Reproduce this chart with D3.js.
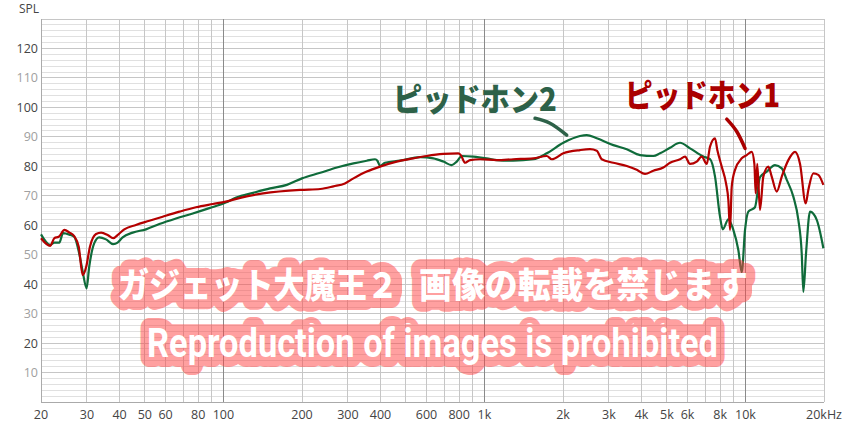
<!DOCTYPE html>
<html><head><meta charset="utf-8">
<script src="https://cdn.jsdelivr.net/npm/d3@7"></script>
<style>html,body{margin:0;padding:0;background:#fff;} svg{display:block;}</style>
</head><body><svg id="c" width="844" height="426"></svg>
<script>
// ---------- data ----------
const seriesNames = ["ピッドホン1", "ピッドホン2"];

// ピッドホン1 (red)
const freq1 = [20,21.7,22.5,23.4,24.6,25.7,26.8,27.9,28.9,29.8,30.8,32.5,34,36,37.8,39.7,41.7,46.2,52,58.5,67.8,78.5,91,102,116,142,197,235,264,292,315,354,398,461,534,601,696,794,812,843,881,962,1115,1290,1539,1733,1811,2006,2324,2539,2694,2815,3118,3510,3833,4124,4437,4847,5141,5616,5869,6133,6507,6801,7108,7318,7647,7803,8112,8428,8600,8730,8862,9124,9679,10115,10570,10820,10950,11100,11370,11710,12240,12610,13180,13780,14600,15490,16190,17020,17420,18200,19020,19890];
const spl1  = [55.6,53,55.6,56.1,58.4,57.5,56.3,52.7,43.1,45.9,52.7,57,57.5,56.7,55.6,57,58.6,60.1,61.5,62.9,64.6,66.1,67.2,68,69.3,70.8,72,72.3,73.2,74.2,75.9,78.2,79.9,81.6,82.7,83.5,84.2,84.4,83.8,81.2,82.1,82.4,82.1,82.4,82.7,83.5,82.4,84.4,85.5,85.8,85.3,82.4,81.2,80.1,78.8,77.4,78.5,79.6,81.2,82.4,83.3,80.8,81.6,83.3,80.8,86.7,89.5,85.5,79.9,74.2,68.6,58.4,73.1,78.8,82.7,83.8,84.9,80.8,70.8,80.8,65.2,76.5,79.9,76.5,71.4,76.5,82.1,84.9,80.8,67.4,72,77.6,77.1,73.7];

// ピッドホン2 (green)
const freq2 = [20,21.7,22.5,23.5,24.3,25.7,26.8,28.0,28.9,29.9,30.6,32.0,33.4,35.5,37.8,39.3,41.1,44.9,50.5,56.8,65.8,76.3,88.3,102,112,130,151,175,200,235,272,315,354,381,389,398,416,475,567,637,696,749,783,819,907,1020,1115,1290,1539,1733,2006,2324,2466,2694,3118,3510,3947,4437,4708,5141,5616,6133,6898,7318,7647,7992,8185,8600,8988,9393,9679,9965,10260,10880,11370,12070,12980,13780,14400,15260,15950,16430,16670,17070,17680,18760,19890];
const spl2  = [56.9,53.3,54.1,54.1,57.3,56.8,56.1,50.5,44.2,38.6,45.9,53.9,55.9,55.2,53.6,54.1,55.9,57.5,58.6,60.4,62.3,64.0,65.8,67.7,69.4,71.0,72.5,73.7,75.9,77.8,79.6,81.0,81.9,82.4,81.9,80.1,81.2,81.9,83.1,82.7,81.6,80.4,81.6,83.5,83.3,82.7,82.1,81.9,82.4,84.4,88.0,90.3,90.6,89.5,87.2,85.8,83.8,83.5,84.4,86.3,88.0,86.1,83.3,82.4,76.5,62.9,58.6,62.0,58.4,51.6,44.0,58.4,64.6,66.1,76.3,78.2,80.4,79.3,75.4,69.7,61.8,50.5,37.4,50.5,64.6,61.8,52.2];

const yTickValues = [10,20,30,40,50,60,70,80,90,100,110,120];
const xTickValues = [20,30,40,50,60,80,100,200,300,400,600,800,1000,2000,3000,4000,5000,6000,8000,10000,20000];
const xTickLabels = ["20","30","40","50","60","80","100","200","300","400","600","800","1k","2k","3k","4k","5k","6k","8k","10k","20kHz"];

// annotation anchors in data units [freq, dB]
const label1Pos = [3457, 100.1];
const label2Pos = [446, 98.8];
const arrow1 = [[8481,96.0],[9262,91.8],[9965,86.1]];
const arrow2 = [[1563,96.3],[1784,94.6],[2067,90.6]];

const watermarkLine1a = "ガジェット大魔王２";
const watermarkLine1b = "画像の転載を禁じます";
const watermarkLine2 = "Reproduction of images is prohibited";

// ---------- layout ----------
const svg = d3.select("#c");
const L = 41, R = 824, T = 19, B = 402;
const x = d3.scaleLog().domain([20,20000]).range([L,R]);
const y = d3.scaleLinear().domain([0,130]).range([B,T]);

const col1 = "#b40000", col2 = "#0f6b3a";

// grid
const grid = svg.append("g");
const hLines = d3.range(0,131,2);
grid.selectAll("line.h").data(hLines).enter().append("line")
  .attr("x1",L).attr("x2",R).attr("y1",d=>y(d)).attr("y2",d=>y(d))
  .attr("stroke",d=> d%10===0 ? "#c6c6c6" : "#e0e0e0").attr("stroke-width",1)
  .attr("shape-rendering","crispEdges");
const vLines = [];
[10,100,1000,10000].forEach(dec=>{ for(let m=1;m<=9;m++){ const f=dec*m; if(f>=20&&f<=20000) vLines.push(f);} });
vLines.push(20000);
grid.selectAll("line.v").data(vLines).enter().append("line")
  .attr("x1",d=>x(d)).attr("x2",d=>x(d)).attr("y1",T).attr("y2",B)
  .attr("stroke",d=> (d===100||d===1000||d===10000) ? "#8a8a8a" : "#c6c6c6").attr("stroke-width",1)
  .attr("shape-rendering","crispEdges");
// axes frame lines
svg.append("line").attr("x1",L).attr("x2",L).attr("y1",T).attr("y2",B).attr("stroke","#aaa").attr("shape-rendering","crispEdges");
svg.append("line").attr("x1",L).attr("x2",R).attr("y1",B).attr("y2",B).attr("stroke","#aaa").attr("shape-rendering","crispEdges");

// y labels
svg.append("g").selectAll("text").data(yTickValues).enter().append("text")
  .attr("x",38).attr("y",d=>y(d)+4.5).attr("text-anchor","end")
  .attr("font-family","'Open Sans','Noto Sans',sans-serif").attr("font-size",12.5)
  .attr("fill",d=> d%20===0 ? "#444" : "#a0a0a0").text(d=>d);
svg.append("text").attr("x",19).attr("y",13).attr("font-family","'Open Sans','Noto Sans',sans-serif")
  .attr("font-size",12).attr("fill","#444").text("SPL");

// x labels
svg.append("g").selectAll("text").data(xTickValues).enter().append("text")
  .attr("x",d=>x(d)).attr("y",419).attr("text-anchor","middle")
  .attr("font-family","'Open Sans','Noto Sans',sans-serif").attr("font-size",12.5)
  .attr("fill","#444").text((d,i)=>xTickLabels[i]);

// curves
const line = d3.line().x(d=>x(d[0])).y(d=>y(d[1])).curve(d3.curveMonotoneX);
const data1 = freq1.map((f,i)=>[f,spl1[i]]);
const data2 = freq2.map((f,i)=>[f,spl2[i]]);
svg.append("path").datum(data2).attr("d",line).attr("fill","none").attr("stroke",col2).attr("stroke-width",2.2).attr("stroke-linejoin","round");
svg.append("path").datum(data1).attr("d",line).attr("fill","none").attr("stroke",col1).attr("stroke-width",2.2).attr("stroke-linejoin","round");

// annotations
const lab = (txt,pos,color,w)=>{
  svg.append("text").attr("x",x(pos[0])).attr("y",y(pos[1]))
    .attr("font-family","'Noto Sans CJK JP',sans-serif").attr("font-weight",900)
    .attr("font-size",32).attr("fill",color)
    .attr("textLength",w).attr("lengthAdjust","spacingAndGlyphs").text(txt);
};
lab(seriesNames[1],label2Pos,"#2d6148",164);
lab(seriesNames[0],label1Pos,"#aa0000",155);
const arrowLine = d3.line().x(d=>x(d[0])).y(d=>y(d[1])).curve(d3.curveNatural);
svg.append("path").datum(arrow2).attr("d",arrowLine).attr("fill","none").attr("stroke","#2d6148").attr("stroke-width",3.5).attr("stroke-linecap","round");
svg.append("path").datum(arrow1).attr("d",arrowLine).attr("fill","none").attr("stroke","#aa0000").attr("stroke-width",3.5).attr("stroke-linecap","round");

// watermark
function wm(txt, x0, x1, base, size, family, weight){
  const g = svg.append("g").attr("opacity",0.5);
  const w = x1-x0;
  g.append("rect").attr("x",x0-4).attr("y",base-size*0.82).attr("width",w+8).attr("height",size*0.95)
    .attr("rx",10).attr("fill","#ff4444");
  g.append("text").attr("x",x0).attr("y",base).attr("font-family",family).attr("font-weight",weight)
    .attr("font-size",size).attr("textLength",w).attr("lengthAdjust","spacingAndGlyphs")
    .attr("fill","#ff4444").attr("stroke","#ff4444").attr("stroke-width",20).attr("stroke-linejoin","round").text(txt);
  svg.append("text").attr("x",x0).attr("y",base).attr("font-family",family).attr("font-weight",weight)
    .attr("font-size",size).attr("textLength",w).attr("lengthAdjust","spacingAndGlyphs")
    .attr("fill","#fff").text(txt);
}
wm(watermarkLine1a,118,398,298,35,"'Noto Sans CJK JP',sans-serif",900);
wm(watermarkLine1b,419,748,298,35,"'Noto Sans CJK JP',sans-serif",900);
wm(watermarkLine2,147,718,357,40,"Roboto,'Liberation Sans',sans-serif",700);
</script></body></html>
